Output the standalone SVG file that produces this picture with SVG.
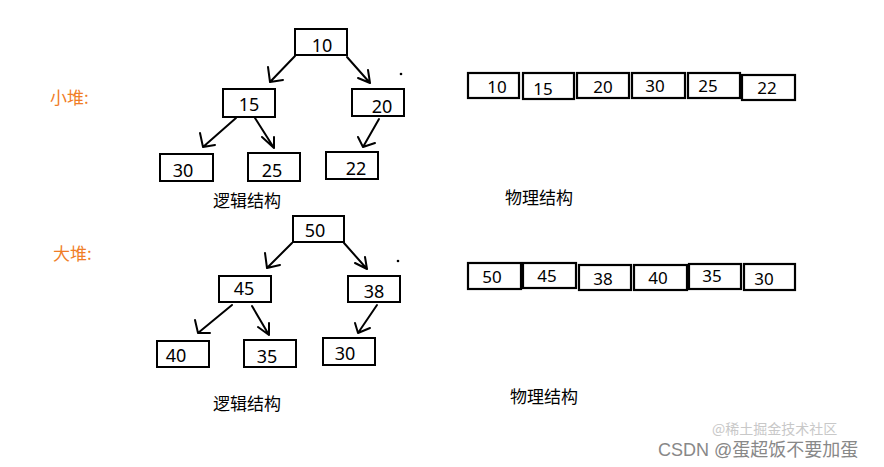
<svg xmlns="http://www.w3.org/2000/svg" width="884" height="467" viewBox="0 0 884 467">
<style>
  .box{fill:#fff;stroke:#000;stroke-width:2}
  .abox{fill:#fff;stroke:#000;stroke-width:2.2}
  .num{font-family:"Noto Sans","Open Sans","Liberation Sans",sans-serif;font-size:18px;fill:#000;text-anchor:middle}
  .anum{font-family:"Noto Sans","Open Sans","Liberation Sans",sans-serif;font-size:17px;fill:#000;text-anchor:middle}
  .edge{fill:none;stroke:#000;stroke-width:2;stroke-linecap:round;stroke-linejoin:round}
  .cap{font-family:"Noto Sans CJK SC","Noto Sans",sans-serif;font-size:17px;fill:#000}
  .heap{font-family:"Noto Sans CJK SC","Noto Sans",sans-serif;font-size:17px;fill:#f07d26}
</style>
<rect width="884" height="467" fill="#fff"/>

<text class="heap" x="50" y="104">小堆:</text>
<text class="heap" x="53" y="260">大堆:</text>

<g id="connectors">
  <path class="edge" d="M295,56 L270,82 M268,67 L270,82 L283,80"/>
  <path class="edge" d="M347,57 L370,83 M358,78 L370,83 L368,70"/>
  <path class="edge" d="M236,118 L203,147 M200,133 L203,147 L215,145"/>
  <path class="edge" d="M255,118 L274,148 M262,137 L274,148 L274,137"/>
  <path class="edge" d="M379,119 L363,147 M358,137 L363,147 L375,143"/>
  <path class="edge" d="M292,243 L267,268 M265,253 L267,268 L280,265"/>
  <path class="edge" d="M344,243 L367,269 M355,263 L367,269 L365,257"/>
  <path class="edge" d="M232,305 L198,333 M195,320 L198,333 L210,333"/>
  <path class="edge" d="M252,306 L269,335 M258,327 L269,335 L269,323"/>
  <path class="edge" d="M377,305 L358,333 M355,323 L358,333 L370,328"/>
</g>

<g id="n10"><rect class="box" x="295" y="29" width="52" height="26"/><text class="num" x="322" y="52">10</text></g>
<g id="n15"><rect class="box" x="223" y="89" width="52" height="28"/><text class="num" x="249" y="111">15</text></g>
<g id="n20"><rect class="box" x="352" y="89" width="52" height="27"/><text class="num" x="382" y="113">20</text></g>
<g id="n30a"><rect class="box" x="160" y="154" width="53" height="27"/><text class="num" x="183" y="177">30</text></g>
<g id="n25"><rect class="box" x="248" y="153" width="52" height="28"/><text class="num" x="272" y="177">25</text></g>
<g id="n22"><rect class="box" x="326" y="152" width="52" height="27"/><text class="num" x="356" y="175">22</text></g>
<circle cx="401" cy="74" r="1.3" fill="#000"/>

<g id="n50"><rect class="box" x="293" y="216" width="51" height="26"/><text class="num" x="315" y="237">50</text></g>
<g id="n45"><rect class="box" x="219" y="276" width="52" height="26"/><text class="num" x="244" y="295">45</text></g>
<g id="n38"><rect class="box" x="348" y="276" width="52" height="26"/><text class="num" x="374" y="298">38</text></g>
<g id="n40"><rect class="box" x="157" y="341" width="52" height="26"/><text class="num" x="176" y="362">40</text></g>
<g id="n35"><rect class="box" x="244" y="340" width="52" height="27"/><text class="num" x="267" y="363">35</text></g>
<g id="n30b"><rect class="box" x="323" y="338" width="52" height="27"/><text class="num" x="345" y="360">30</text></g>
<circle cx="398" cy="261" r="1.3" fill="#000"/>

<text class="cap" x="213" y="207">逻辑结构</text>
<text class="cap" x="505" y="204">物理结构</text>
<text class="cap" x="213" y="410">逻辑结构</text>
<text class="cap" x="510" y="403">物理结构</text>

<g id="arr1">
  <rect class="abox" x="468" y="73" width="51" height="25"/><text class="anum" x="497" y="93">10</text>
  <rect class="abox" x="523" y="73" width="51" height="26"/><text class="anum" x="543" y="95">15</text>
  <rect class="abox" x="577" y="73" width="52" height="25"/><text class="anum" x="603" y="93">20</text>
  <rect class="abox" x="632" y="73" width="53" height="25"/><text class="anum" x="655" y="92">30</text>
  <rect class="abox" x="688" y="73" width="52" height="25"/><text class="anum" x="708" y="92">25</text>
  <rect class="abox" x="742" y="75" width="53" height="25"/><text class="anum" x="767" y="94">22</text>
</g>
<g id="arr2">
  <rect class="abox" x="468" y="263" width="53" height="26"/><text class="anum" x="492" y="283">50</text>
  <rect class="abox" x="523" y="263" width="53" height="25"/><text class="anum" x="547" y="282">45</text>
  <rect class="abox" x="579" y="265" width="52" height="25"/><text class="anum" x="603" y="285">38</text>
  <rect class="abox" x="634" y="265" width="53" height="25"/><text class="anum" x="658" y="284">40</text>
  <rect class="abox" x="689" y="264" width="52" height="25"/><text class="anum" x="712" y="282">35</text>
  <rect class="abox" x="744" y="264" width="51" height="26"/><text class="anum" x="764" y="285">30</text>
</g>

<text x="712" y="434" font-family="Noto Sans CJK SC,sans-serif" font-size="14" fill="#bbb" opacity="0.8">@稀土掘金技术社区</text>
<text x="658" y="456" font-family="Liberation Sans,Noto Sans CJK SC,sans-serif" font-size="18" fill="#888">CSDN @蛋超饭不要加蛋</text>
</svg>
